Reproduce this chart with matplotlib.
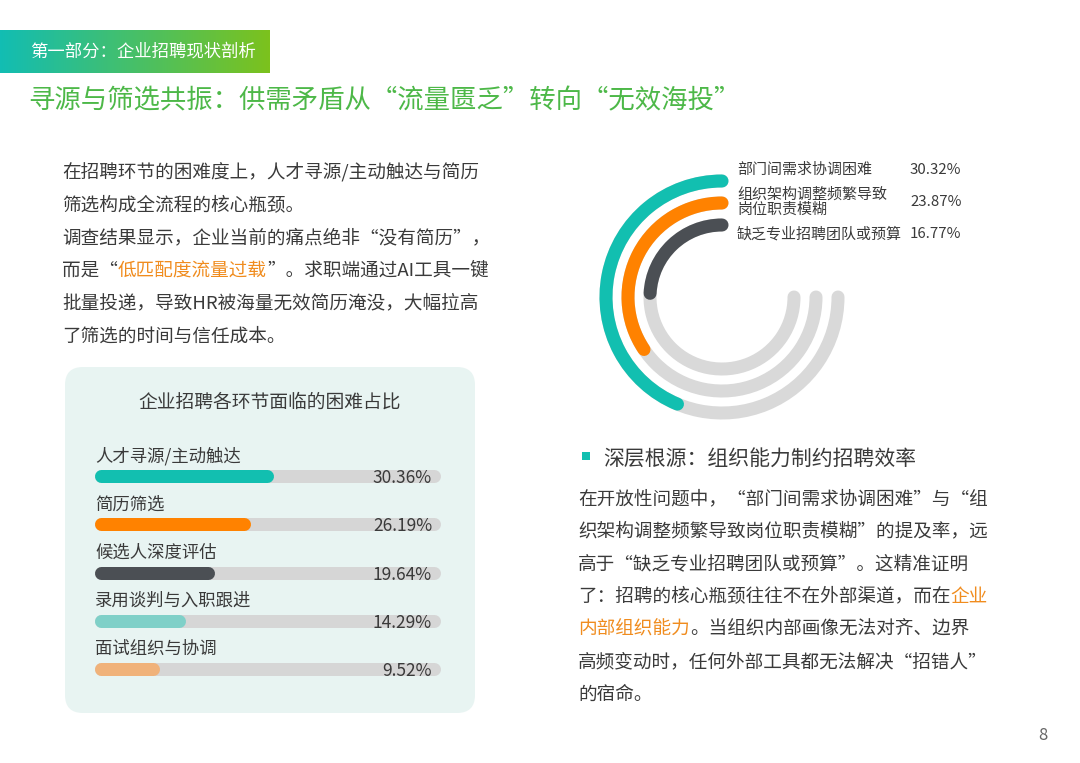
import numpy as np
import matplotlib
matplotlib.use("Agg")
import matplotlib.pyplot as plt
from matplotlib.patches import Arc, FancyBboxPatch, Rectangle

plt.rcParams['font.family'] = ['Noto Sans CJK SC', 'DejaVu Sans']

# ---------------- data ----------------
bar_labels = ["人才寻源/主动触达", "简历筛选", "候选人深度评估", "录用谈判与入职跟进", "面试组织与协调"]
bar_values = [30.36, 26.19, 19.64, 14.29, 9.52]
bar_colors = ["#12bfb0", "#ff8200", "#4b4f54", "#7fd0c8", "#f0b27a"]

ring_labels = ["部门间需求协调困难", "组织架构调整频繁导致\n岗位职责模糊", "缺乏专业招聘团队或预算"]
ring_values = [30.32, 23.87, 16.77]
ring_colors = ["#12bfb0", "#ff8200", "#4b4f54"]

W, H = 1080, 763
fig = plt.figure(figsize=(W / 100, H / 100), dpi=100)
ax = fig.add_axes([0, 0, 1, 1])
ax.set_xlim(0, W)
ax.set_ylim(H, 0)
ax.axis("off")

TXT = "#3a3a3a"
ORG = "#f08c1e"


def rich(x, y, parts, size):
    """draw text segments one after another on one line"""
    r = fig.canvas.get_renderer()
    for s, c in parts:
        t = ax.text(x, y, s, color=c, fontsize=size, va="center", ha="left")
        bb = t.get_window_extent(renderer=r)
        x += bb.width


# ---------------- header ----------------
grad = np.linspace(0, 1, 256).reshape(1, -1)
cmap = matplotlib.colors.LinearSegmentedColormap.from_list("g", ["#12bdb3", "#7cc21d"])
ax.imshow(grad, cmap=cmap, extent=[0, 270, 73, 30], aspect="auto", zorder=1)
ax.text(30, 52, "第一部分：企业招聘现状剖析", color="white", fontsize=12.5, va="center")
ax.text(28, 101, "寻源与筛选共振：供需矛盾从“流量匮乏”转向“无效海投”",
        color="#4db848", fontsize=19, va="center")
ax.set_xlim(0, W)
ax.set_ylim(H, 0)

# ---------------- left paragraph ----------------
fs = 13.4
lines = [
    [("在招聘环节的困难度上，人才寻源/主动触达与简历", TXT)],
    [("筛选构成全流程的核心瓶颈。", TXT)],
    [("调查结果显示，企业当前的痛点绝非“没有简历”，", TXT)],
    [("而是“", TXT), ("低匹配度流量过载", ORG), ("”。求职端通过AI工具一键", TXT)],
    [("批量投递，导致HR被海量无效简历淹没，大幅拉高", TXT)],
    [("了筛选的时间与信任成本。", TXT)],
]
for i, ln in enumerate(lines):
    rich(62, 173 + i * 32.7, ln, fs)

# ---------------- bar panel ----------------
ax.add_patch(FancyBboxPatch((65, 367), 410, 346, boxstyle="round,pad=0,rounding_size=18",
                            fc="#e8f4f2", ec="none", zorder=1))
ax.text(270, 402, "企业招聘各环节面临的困难占比", fontsize=13.5, color=TXT, ha="center", va="center")
x0, x1, full = 101, 434, 61.0
lw = 13 * 0.72
for i, (lab, v, c) in enumerate(zip(bar_labels, bar_values, bar_colors)):
    yb = 476 + i * 48.3
    ax.plot([x0, x1], [yb, yb], color="#d6d6d6", lw=lw, solid_capstyle="round", zorder=2)
    ax.plot([x0, x0 + (x1 - x0) * v / full], [yb, yb], color=c, lw=lw,
            solid_capstyle="round", zorder=3)
    ax.text(95, yb - 20, lab, fontsize=12.5, color=TXT, va="center")
    ax.text(432, yb + 2, f"{v:.2f}%", fontsize=12.5, color=TXT, va="center", ha="right", zorder=4)

# ---------------- rings ----------------
cx, cy = 722, 297
radii = [116, 94, 72]
ring_full = 52.0  # value shown by 270 degrees
for r, v, c in zip(radii, ring_values, ring_colors):
    ax.add_patch(Arc((cx, cy), 2 * r, 2 * r, theta1=0, theta2=270, color="#d9d9d9",
                     lw=lw, capstyle="round", zorder=2))
    span = 270 * v / ring_full
    ax.add_patch(Arc((cx, cy), 2 * r, 2 * r, theta1=270 - span, theta2=270,
                     color=c, lw=lw, capstyle="round", zorder=3))
leg_y = [170, 202, 234]
for lab, v, y in zip(ring_labels, ring_values, leg_y):
    ax.text(737, y, lab, fontsize=10.8, color=TXT, va="center", linespacing=1.1)
    ax.text(910, y, f"{v:.2f}%", fontsize=10.8, color=TXT, va="center")

# ---------------- right paragraph ----------------
ax.add_patch(Rectangle((582, 452), 8, 8, fc="#12bfb0", ec="none"))
ax.text(603, 460, "深层根源：组织能力制约招聘效率", fontsize=15, color=TXT, va="center")
rlines = [
    [("在开放性问题中，“部门间需求协调困难”与“组", TXT)],
    [("织架构调整频繁导致岗位职责模糊”的提及率，远", TXT)],
    [("高于“缺乏专业招聘团队或预算”。这精准证明", TXT)],
    [("了：招聘的核心瓶颈往往不在外部渠道，而在", TXT), ("企业", ORG)],
    [("内部组织能力", ORG), ("。当组织内部画像无法对齐、边界", TXT)],
    [("高频变动时，任何外部工具都无法解决“招错人”", TXT)],
    [("的宿命。", TXT)],
]
for i, ln in enumerate(rlines):
    rich(578, 499 + i * 32.6, ln, fs)

ax.text(1043, 735, "8", fontsize=12, color="#666666", ha="center", va="center")

fig.savefig("out.png", dpi=100, facecolor="white")
